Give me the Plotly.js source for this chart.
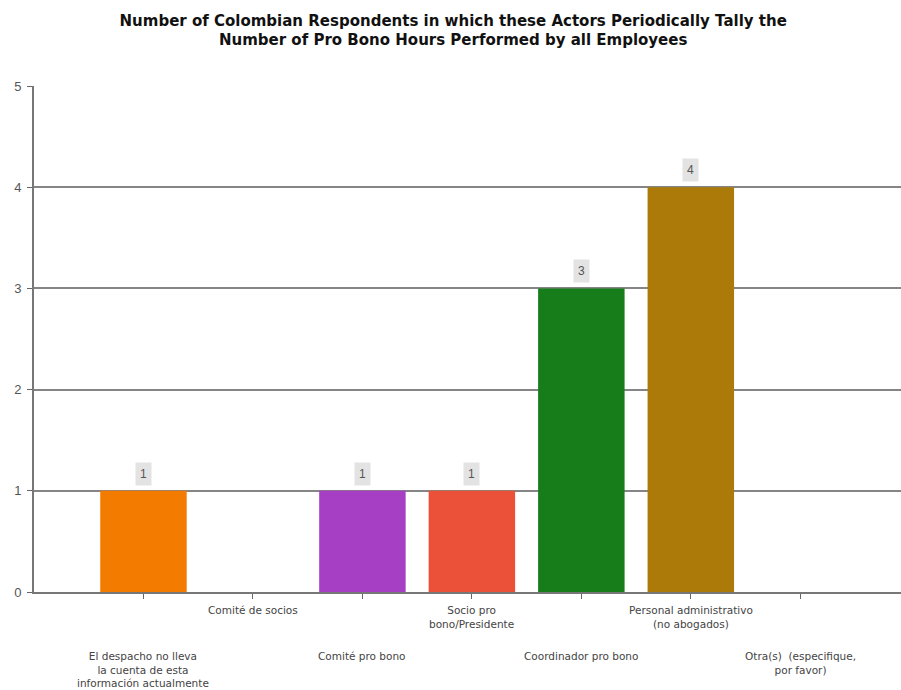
<!DOCTYPE html>
<html>
<head>
<meta charset="utf-8">
<script src="https://cdn.plot.ly/plotly-3.0.1.min.js"></script>
<style>html,body{margin:0;padding:0;background:#fff;}#chart{width:901px;height:690px;}</style>
</head>
<body>
<div id="chart"></div>
<script>
var categories = [
  "El despacho no lleva<br>la cuenta de esta<br>información actualmente",
  "Comité de socios",
  "Comité pro bono",
  "Socio pro<br>bono/Presidente",
  "Coordinador pro bono",
  "Personal administrativo<br>(no abogados)",
  "Otra(s)  (especifique,<br>por favor)"
];
var values = [1, 0, 1, 1, 3, 4, 0];
var barColors = ["#f27b00", "#ffffff", "#a63fc4", "#ea5138", "#167d1a", "#ab7a09", "#ffffff"];
var yTicks = [0, 1, 2, 3, 4, 5];
var labelRow = [2, 1, 2, 1, 2, 1, 2];

var idx = categories.map(function (c, i) { return i; });

var annotations = [];
values.forEach(function (v, i) {
  if (v > 0) {
    annotations.push({
      x: i, y: v, xref: 'x', yref: 'y', text: String(v), showarrow: false,
      yanchor: 'bottom', yshift: 5, bgcolor: '#e3e3e3', borderpad: 4,
      font: {family: 'Liberation Sans, Arial, sans-serif', size: 12, color: '#555'}
    });
  }
});
categories.forEach(function (c, i) {
  annotations.push({
    x: i, y: 0, xref: 'x', yref: 'paper', text: c, showarrow: false,
    yanchor: 'top', yshift: labelRow[i] === 1 ? -10 : -56,
    font: {family: 'DejaVu Sans, sans-serif', size: 10.5, color: '#444'}
  });
});

var trace = {
  type: 'bar', x: idx, y: values, width: 0.79,
  marker: {color: barColors, line: {width: 0}},
  hoverinfo: 'skip'
};

var layout = {
  width: 901, height: 690,
  margin: {l: 34, r: 0, t: 86, b: 98},
  paper_bgcolor: '#fff', plot_bgcolor: '#fff',
  showlegend: false,
  title: {
    text: '<b>Number of Colombian Respondents in which these Actors Periodically Tally the<br>Number of Pro Bono Hours Performed by all Employees</b>',
    x: 0.503, xanchor: 'center', y: 0.963, yanchor: 'top',
    font: {family: 'DejaVu Sans, sans-serif', size: 15, color: '#111'}
  },
  xaxis: {
    range: [-1, 6.92], tickvals: idx, ticktext: idx.map(function(){return '';}),
    ticks: 'outside', ticklen: 5, tickcolor: '#666', tickwidth: 1,
    showline: true, linecolor: '#777', linewidth: 2, showgrid: false, zeroline: false,
    fixedrange: true
  },
  yaxis: {
    range: [0, 5], tickvals: yTicks, ticks: 'outside', ticklen: 5, tickcolor: '#666',
    showline: true, linecolor: '#777', linewidth: 2,
    showgrid: true, gridcolor: '#858585', gridwidth: 2, zeroline: false,
    tickfont: {family: 'Liberation Sans, Arial, sans-serif', size: 13, color: '#555'},
    ticklabelstandoff: 3, fixedrange: true
  },
  annotations: annotations,
  bargap: 0.2
};

Plotly.newPlot('chart', [trace], layout, {displayModeBar: false, staticPlot: true});
</script>
</body>
</html>
